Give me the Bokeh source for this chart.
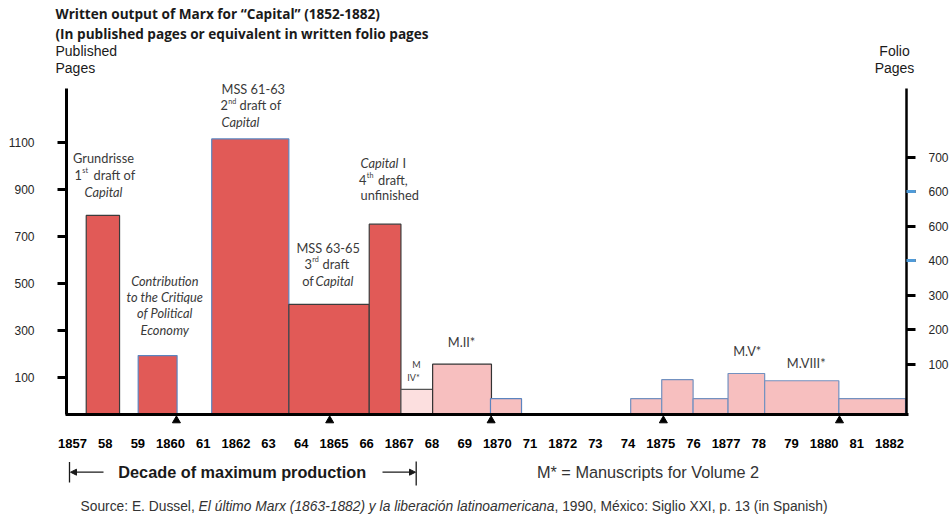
from bokeh.plotting import figure
from bokeh.models import (Range1d, LinearAxis, FixedTicker, Label, Arrow,
                          NormalHead, ColumnDataSource)
from bokeh.embed import file_html
from bokeh.resources import INLINE

# ---------------- data ----------------
YEARS = list(range(1857, 1883))
YEAR_LABELS = ["1857", "58", "59", "1860", "61", "1862", "63", "64", "1865", "66",
               "1867", "68", "69", "1870", "71", "1872", "73", "74", "1875", "76",
               "1877", "78", "79", "1880", "81", "1882"]

# published pages (left axis)
PUB_WORKS = ["Grundrisse", "Contribution", "MSS 61-63", "MSS 63-65", "Capital I"]
PUB_FROM = [1857.42, 1859.01, 1861.26, 1863.62, 1866.08]
PUB_TO = [1858.44, 1860.20, 1863.62, 1866.08, 1867.05]
PUB_PAGES = [790, 195, 1115, 412, 753]

# written folio pages (right axis)
FOLIO_WORKS = ["M IV", "M II", "", "", "", "", "M V", "M VIII", ""]
FOLIO_FROM = [1867.05, 1868.02, 1869.79, 1874.08, 1875.03, 1875.99, 1877.06, 1878.18, 1880.45]
FOLIO_TO = [1868.02, 1869.82, 1870.74, 1875.03, 1875.99, 1877.06, 1878.18, 1880.45, 1882.49]
FOLIO_PAGES = [27, 100, 0, 0, 55, 0, 73, 52, 0]

PUB_TICKS = [100, 300, 500, 700, 900, 1100]
FOLIO_TICKS = [100, 200, 300, 400, 500, 600, 700]
FOLIO_TICK_LABELS = ["100", "200", "300", "400", "600", "600", "700"]
FOLIO_BLUE_TICKS = [400, 600]
FIVE_YEAR_MARKS = [1860.18, 1864.87, 1869.81, 1875.08, 1880.47]

# ---------------- styles ----------------
PUB_FILL = "#e15a57"
PUB_EDGE = ["#3c3c3c", "#5b84bf", "#5b84bf", "#3c3c3c", "#3c3c3c"]
FOLIO_FILL = ["#fcdfdf"] + ["#f7bfbf"] * 8
FOLIO_EDGE = ["#555555", "#333333", "#5b84bf"] + ["#7391c0"] * 6

# ---------------- layout: the frame fills the whole canvas ----------------
W, H = 952, 514
FRAME_L, FRAME_R, FRAME_T, FRAME_B = 66, 906, 88, 414   # chart box, page pixels
X_PX_1857, X_PX_PER_YEAR = 72.0, 32.68
PUB_ZERO_PY, PUB_PX_PER_UNIT = 401.0, 0.2355
FOLIO_ZERO_PY, FOLIO_PX_PER_UNIT = 398.16, 0.34457


def year_at(px):
    return 1857 + (px - X_PX_1857) / X_PX_PER_YEAR


def pub_at(py):
    return (PUB_ZERO_PY - py) / PUB_PX_PER_UNIT


def folio_at(py):
    return (FOLIO_ZERO_PY - py) / FOLIO_PX_PER_UNIT


PUB_FLOOR, FOLIO_FLOOR = pub_at(FRAME_B), folio_at(FRAME_B)

p = figure(width=W, height=H, output_backend="svg", toolbar_location=None,
           x_range=Range1d(year_at(0), year_at(W)), y_range=Range1d(pub_at(H), pub_at(0)),
           x_axis_location=None, y_axis_location=None,
           min_border_left=0, min_border_right=0, min_border_top=0, min_border_bottom=0)
p.extra_y_ranges = {"folio": Range1d(folio_at(H), folio_at(0))}
p.grid.grid_line_color = None
p.outline_line_color = None
p.background_fill_color = "white"
p.border_fill_color = "white"

# ---------------- axes ----------------
xaxis = LinearAxis(fixed_location=PUB_FLOOR, bounds=(year_at(64.5), year_at(907.5)),
                   ticker=FixedTicker(ticks=YEARS),
                   major_label_overrides={y: l for y, l in zip(YEARS, YEAR_LABELS)})
xaxis.axis_line_width = 3
xaxis.axis_line_color = "black"
xaxis.major_tick_line_color = None
xaxis.minor_tick_line_color = None
xaxis.major_label_standoff = 18
xaxis.major_label_text_font = "Liberation Sans"
xaxis.major_label_text_font_style = "bold"
xaxis.major_label_text_font_size = "13px"
xaxis.major_label_text_color = "black"
p.add_layout(xaxis, "below")

yl = LinearAxis(fixed_location=year_at(FRAME_L), bounds=(PUB_FLOOR, pub_at(FRAME_T)),
                ticker=FixedTicker(ticks=PUB_TICKS))
yl.axis_line_width = 3
yl.axis_line_color = "black"
yl.major_tick_line_width = 3
yl.major_tick_line_color = "black"
yl.major_tick_out = 9
yl.major_tick_in = 0
yl.minor_tick_line_color = None
yl.major_label_standoff = 23
yl.major_label_text_font = "Liberation Sans"
yl.major_label_text_font_size = "12px"
yl.major_label_text_color = "#262626"
p.add_layout(yl, "left")

yr = LinearAxis(y_range_name="folio", fixed_location=year_at(FRAME_R),
                bounds=(FOLIO_FLOOR, folio_at(FRAME_T)),
                ticker=FixedTicker(ticks=FOLIO_TICKS, minor_ticks=FOLIO_BLUE_TICKS),
                major_label_overrides={t: l for t, l in zip(FOLIO_TICKS, FOLIO_TICK_LABELS)})
yr.axis_line_width = 2.5
yr.axis_line_color = "black"
yr.major_tick_line_width = 3
yr.major_tick_line_color = "black"
yr.major_tick_out = 9
yr.major_tick_in = 0
yr.minor_tick_line_color = "#4f9bd9"
yr.minor_tick_line_width = 3
yr.minor_tick_out = 9
yr.minor_tick_in = 0
yr.major_label_standoff = 13
yr.major_label_text_font = "Liberation Sans"
yr.major_label_text_font_size = "12px"
yr.major_label_text_color = "#262626"
p.add_layout(yr, "right")

# ---------------- bars ----------------
pub_src = ColumnDataSource(dict(left=PUB_FROM, right=PUB_TO, top=PUB_PAGES,
                                bottom=[PUB_FLOOR] * len(PUB_PAGES), edge=PUB_EDGE,
                                work=PUB_WORKS))
p.quad(left="left", right="right", top="top", bottom="bottom", source=pub_src,
       fill_color=PUB_FILL, line_color="edge", line_width=1.2)

folio_src = ColumnDataSource(dict(left=FOLIO_FROM, right=FOLIO_TO, top=FOLIO_PAGES,
                                  bottom=[FOLIO_FLOOR] * len(FOLIO_PAGES),
                                  fill=FOLIO_FILL, edge=FOLIO_EDGE, work=FOLIO_WORKS))
p.quad(left="left", right="right", top="top", bottom="bottom", source=folio_src,
       y_range_name="folio", fill_color="fill", line_color="edge", line_width=1.2)

# five-year markers just below the baseline
tri_src = ColumnDataSource(dict(x=FIVE_YEAR_MARKS,
                                y=[pub_at(FRAME_B + 6)] * len(FIVE_YEAR_MARKS)))
p.scatter(x="x", y="y", source=tri_src, marker="triangle", size=8,
          fill_color="black", line_color="black")


# ---------------- texts ----------------
def note(px, py, text, size=12.8, font="Lato", style="normal", align="left",
         color="#3a3a3a", baseline="middle"):
    p.add_layout(Label(x=px, y=H - py, x_units="screen", y_units="screen",
                       text=text, text_font=font, text_font_size=f"{size}px",
                       text_font_style=style, text_align=align, text_baseline=baseline,
                       text_color=color))


def seg(px0, py0, px1, py1, head=False):
    p.add_layout(Arrow(x_start=px0, y_start=H - py0, x_end=px1, y_end=H - py1,
                       start_units="screen", end_units="screen",
                       end=NormalHead(size=6, fill_color="#1a1a1a", line_color="#1a1a1a",
                                      line_width=1) if head else None,
                       line_color="#1a1a1a", line_width=1.3))


def sup_line(px, py, num, sup, rest, rest_px):
    note(px, py, num, align="right")
    note(px + 0.3, py - 4.2, sup, size=7.2)
    note(rest_px, py, rest)


# titles
note(55, 13, "Written output of Marx for \u201cCapital\u201d (1852-1882)",
     font="Open Sans", style="bold", size=13.6, color="#1a1a1a")
note(55, 33, "(In published pages or equivalent in written folio pages",
     font="Open Sans", style="bold", size=13.6, color="#1a1a1a")
note(55, 50, "Published", font="Liberation Sans", size=14, color="#1a1a1a")
note(55, 67, "Pages", font="Liberation Sans", size=14, color="#1a1a1a")
note(894, 50, "Folio", font="Liberation Sans", size=14, color="#1a1a1a", align="center")
note(894, 67, "Pages", font="Liberation Sans", size=14, color="#1a1a1a", align="center")

# Grundrisse
note(103, 157, "Grundrisse", align="center")
sup_line(81.5, 174, "1", "st", "draft of", 93)
note(103, 191, "Capital", style="italic", align="center")

# MSS 61-63
note(221, 88, "MSS 61-63")
sup_line(227.5, 104.7, "2", "nd", "draft of", 239)
note(221, 121, "Capital", style="italic")

# Capital I
note(360, 162.7, "Capital", style="italic")
note(402, 162.7, "I")
sup_line(366, 179.3, "4", "th", "draft,", 377.5)
note(360, 194.5, "unfinished")

# MSS 63-65
note(327.7, 247.7, "MSS 63-65", align="center")
sup_line(311.5, 263.3, "3", "rd", "draft", 322)
note(301.7, 280, "of")
note(315, 280, "Capital", style="italic")

# Contribution
for i, t in enumerate(["Contribution", "to the Critique", "of Political", "Economy"]):
    note(164.3, 280 + 16.4 * i, t, style="italic", align="center")

# manuscripts for volume 2
note(411.7, 364.3, "M", size=9)
note(413, 377.3, "IV*", size=9, align="center")
note(461, 341.7, "M.II*", align="center")
note(746.7, 350.7, "M.V*", align="center")
note(805.7, 362.3, "M.VIII*", align="center")

# bottom notes
seg(69, 461.5, 69, 482)
seg(415.7, 461, 415.7, 485)
seg(103, 471.7, 70, 471.7, head=True)
seg(382, 471.7, 415, 471.7, head=True)
note(241.7, 471.5, "Decade of maximum production", font="Liberation Sans", style="bold",
     size=16.3, align="center", color="#1a1a1a")
note(647.5, 471, "M* = Manuscripts for Volume 2", font="Liberation Sans", size=16.3,
     align="center", color="#333333")

SRC_SIZE = 13.8
note(80, 506, "Source: E. Dussel, ", font="Liberation Sans", size=SRC_SIZE,
     color="#333333", baseline="alphabetic")
note(80 + 8.559 * SRC_SIZE, 506,
     "El \u00faltimo Marx (1863-1882) y la liberaci\u00f3n latinoamericana",
     font="Liberation Sans", size=SRC_SIZE, style="italic", color="#333333",
     baseline="alphabetic")
note(80 + (8.559 + 25.786) * SRC_SIZE, 506,
     ", 1990, M\u00e9xico: Siglio XXI, p. 13 (in Spanish)",
     font="Liberation Sans", size=SRC_SIZE, color="#333333", baseline="alphabetic")

open("out.html", "w").write(file_html(p, INLINE))
